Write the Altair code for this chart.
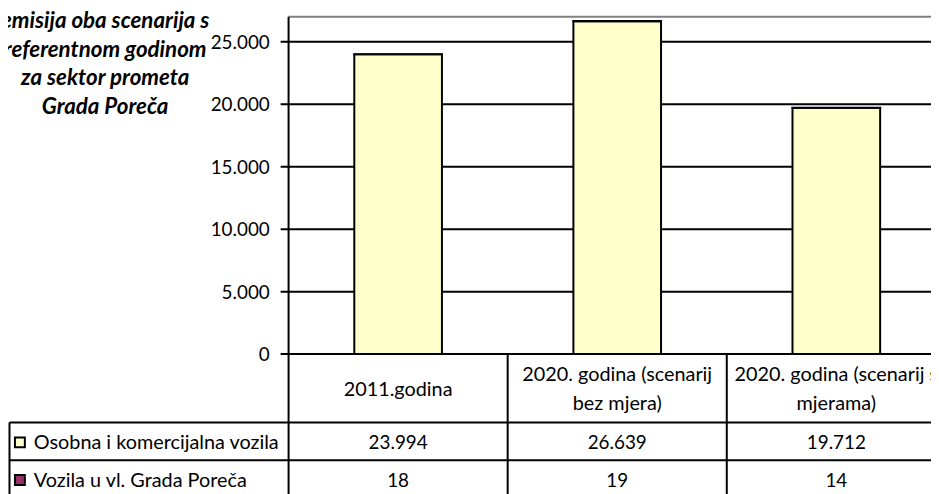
import altair as alt
import pandas as pd

# ---------------- data ----------------
categories = [
    "2011.godina",
    "2020. godina (scenarij\nbez mjera)",
    "2020. godina (scenarij s\nmjerama)",
]
series_names = ["Osobna i komercijalna vozila", "Vozila u vl. Grada Poreča"]
series_colors = ["#FFFFCC", "#993366"]
values_osobna = [23994, 26639, 19712]
values_grad = [18, 19, 14]
y_ticks = [0, 5000, 10000, 15000, 20000, 25000]
title_lines = ["emisija oba scenarija s", "referentnom godinom", "za sektor prometa", "Grada Poreča"]

# ---------------- layout (page pixels) ----------------
PAGE_W, PAGE_H, M = 939, 494, 8
W, H = PAGE_W - M, PAGE_H - M
AXIS_X = 291.0          # plot-area left edge
CAT_W = 221.0           # width of one category
ZERO_Y = 355.0          # value 0
K = 63.0 / 5000.0       # pixels per value unit
Y_TOP = 27000           # top of plot area (value units)
TABLE_TOP = ZERO_Y
ROW_LINES = [424.0, 462.0, 500.0]
HEADER_MID = 391.0
LINE_H = 29
ROW_MIDS = [445.0, 483.0]
TABLE_LEFT = 9.5
FONT = "Lato"
FS_TEXT = 20
FS_NUM = 19
FS_TITLE = 22.5
TITLE_CX = 106


def u(px):
    return (px - AXIS_X) / CAT_W


U_RIGHT = u(PAGE_W + 40)
XS = alt.Scale(domain=[u(M), u(PAGE_W)], nice=False, zero=False)
YV = alt.Scale(domain=[(ZERO_Y - PAGE_H) / K, (ZERO_Y - M) / K], nice=False, zero=False)
YP = alt.Scale(domain=[M, PAGE_H], reverse=True, nice=False, zero=False)

# ---------------- tables built from the arrays ----------------
rows = []
for i, cat in enumerate(categories):
    base = 0
    for s, vals in enumerate([values_osobna, values_grad]):
        rows.append({"cat": i, "series": series_names[s], "v": vals[i], "y0": base, "y1": base + vals[i]})
        base += vals[i]
df_bars = pd.DataFrame(rows)
df_bars["xc"] = df_bars["cat"] + 0.5

df_ticks = pd.DataFrame({"v": y_ticks})
df_cats = pd.DataFrame({"i": list(range(len(categories))), "label": categories})
df_cats["xc"] = df_cats["i"] + 0.5
df_cats["nlines"] = df_cats["label"].str.count("\n") + 1
df_cats["ty"] = HEADER_MID - (df_cats["nlines"] - 1) * LINE_H / 2.0
df_bounds = pd.DataFrame({"b": list(range(len(categories) + 1))})

BAR_HALF = 0.2

# ---------------- layers ----------------
top_border = alt.Chart(df_ticks.head(1)).mark_rule(color="#808080", strokeWidth=2).encode(
    x=alt.X(datum=0, scale=XS, axis=None), x2=alt.X2(datum=U_RIGHT),
    y=alt.Y(datum=Y_TOP, scale=YV, axis=None),
)

grid = alt.Chart(df_ticks).mark_rule(color="black", strokeWidth=2).encode(
    x=alt.X(datum=u(AXIS_X - 8), scale=XS, axis=None), x2=alt.X2(datum=U_RIGHT),
    y=alt.Y("v:Q", scale=YV, axis=None),
)

tick_labels = alt.Chart(df_ticks).transform_calculate(
    lab="replace(format(datum.v, ','), /,/g, '.')"
).mark_text(align="right", baseline="middle", dx=-19, dy=1, font=FONT, fontSize=FS_NUM, color="black").encode(
    x=alt.X(datum=0, scale=XS, axis=None),
    y=alt.Y("v:Q", scale=YV, axis=None),
    text="lab:N",
)

bars = alt.Chart(df_bars).transform_calculate(
    xa=f"datum.xc - {BAR_HALF}", xb=f"datum.xc + {BAR_HALF}"
).mark_rect(stroke="black", strokeWidth=2).encode(
    x=alt.X("xa:Q", scale=XS, axis=None), x2="xb:Q",
    y=alt.Y("y0:Q", scale=YV, axis=None), y2="y1:Q",
    fill=alt.Fill("series:N", scale=alt.Scale(domain=series_names, range=series_colors), legend=None),
)

axis_line = alt.Chart(df_ticks.head(1)).mark_rule(color="black", strokeWidth=2).encode(
    x=alt.X(datum=0, scale=XS, axis=None),
    y=alt.Y(datum=Y_TOP, scale=YV, axis=None), y2=alt.Y2(datum=0),
)

# table (pixel y-scale)
vlines = alt.Chart(df_bounds).mark_rule(color="black", strokeWidth=2).encode(
    x=alt.X("b:Q", scale=XS, axis=None),
    y=alt.Y(datum=TABLE_TOP, scale=YP, axis=None), y2=alt.Y2(datum=ROW_LINES[-1]),
)
left_border = alt.Chart(df_ticks.head(1)).mark_rule(color="black", strokeWidth=2).encode(
    x=alt.X(datum=u(TABLE_LEFT), scale=XS, axis=None),
    y=alt.Y(datum=ROW_LINES[0], scale=YP, axis=None), y2=alt.Y2(datum=ROW_LINES[-1]),
)
hlines = alt.Chart(pd.DataFrame({"r": ROW_LINES})).mark_rule(color="black", strokeWidth=2).encode(
    x=alt.X(datum=u(TABLE_LEFT), scale=XS, axis=None), x2=alt.X2(datum=U_RIGHT),
    y=alt.Y("r:Q", scale=YP, axis=None),
)
header = alt.Chart(df_cats).mark_text(
    align="center", baseline="middle", lineBreak="\n", lineHeight=LINE_H, font=FONT, fontSize=FS_TEXT, color="black"
).encode(
    x=alt.X("xc:Q", scale=XS, axis=None),
    y=alt.Y("ty:Q", scale=YP, axis=None),
    text="label:N",
)

row_layers = []
for s, name in enumerate(series_names):
    d = df_bars[df_bars["series"] == name]
    row_layers.append(
        alt.Chart(d).transform_calculate(
            lab="replace(format(datum.v, ','), /,/g, '.')"
        ).mark_text(align="center", baseline="middle", font=FONT, fontSize=FS_NUM, color="black").encode(
            x=alt.X("xc:Q", scale=XS, axis=None),
            y=alt.Y(datum=ROW_MIDS[s], scale=YP, axis=None),
            text="lab:N",
        )
    )
    row_layers.append(
        alt.Chart(pd.DataFrame({"t": [name]})).mark_text(
            align="left", baseline="middle", font=FONT, fontSize=FS_TEXT, color="black"
        ).encode(
            x=alt.X(datum=u(34), scale=XS, axis=None),
            y=alt.Y(datum=ROW_MIDS[s], scale=YP, axis=None),
            text="t:N",
        )
    )
    row_layers.append(
        alt.Chart(pd.DataFrame({"t": [name]})).mark_square(
            size=100, filled=True, fill=series_colors[s], stroke="black", strokeWidth=2, opacity=1
        ).encode(
            x=alt.X(datum=u(20), scale=XS, axis=None),
            y=alt.Y(datum=ROW_MIDS[s] - 1, scale=YP, axis=None),
        )
    )

title = alt.Chart(pd.DataFrame({"t": ["\n".join(title_lines)]})).mark_text(
    align="center", baseline="middle", lineBreak="\n", lineHeight=LINE_H, font=FONT, fontSize=FS_TITLE,
    fontStyle="italic", fontWeight="bold", color="black"
).encode(
    x=alt.X(datum=u(TITLE_CX), scale=XS, axis=None),
    y=alt.Y(datum=19, scale=YP, axis=None),
    text="t:N",
)

chart = alt.layer(
    top_border, grid, bars, axis_line, tick_labels,
    vlines, left_border, hlines, header, *row_layers, title,
).resolve_scale(y="independent").properties(
    width=W, height=H, padding=0, autosize=alt.AutoSizeParams(type="none"), background="white"
).configure_view(strokeWidth=0)

chart.save("out.html", embed_options={"renderer": "svg", "actions": False})
